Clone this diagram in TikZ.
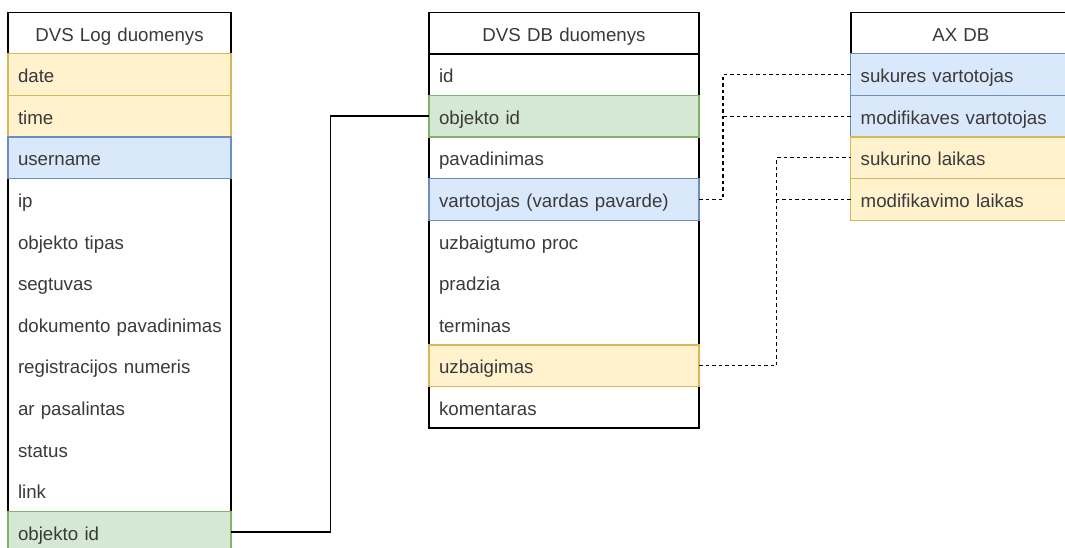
\documentclass[tikz,border=0pt]{standalone}
\usepackage{fontspec}
\setmainfont{Liberation Sans}
\usetikzlibrary{backgrounds}
\definecolor{ylwfill}{HTML}{FFF2CC}
\definecolor{ylwline}{HTML}{D6B656}
\definecolor{blufill}{HTML}{DAE8FC}
\definecolor{bluline}{HTML}{6C8EBF}
\definecolor{grnfill}{HTML}{D5E8D4}
\definecolor{grnline}{HTML}{82B366}
\definecolor{txt}{HTML}{3A3A3A}
\begin{document}
\begin{tikzpicture}[x=1pt,y=-1pt,
  cell/.style={rectangle, anchor=north west, outer sep=0pt, inner ysep=0pt,
    inner xsep=10pt, text height=16pt, text depth=0pt, text=txt,
    font=\fontsize{18.7}{22}\selectfont, line width=1.2pt},
  head/.style={cell, draw=black, line width=1.6pt, fill=white,
    minimum height=41.3pt, align=center, text width=#1},
  field/.style={cell, minimum height=41.6pt, align=left, text width=#1},
  lhead/.style={head=203pt}, lrow/.style={field=203pt},
  mhead/.style={head=250pt}, mrow/.style={field=250pt},
  rhead/.style={head=200.3pt}, rrow/.style={field=200.3pt},
  ylw/.style={fill=ylwfill, draw=ylwline},
  blu/.style={fill=blufill, draw=bluline},
  grn/.style={fill=grnfill, draw=grnline},
  frame/.style={draw=black, line width=1.6pt, fill=white},
  link/.style={draw=black, line width=1.5pt},
  ref/.style={draw=black, line width=1.3pt, dash pattern=on 3.5pt off 3pt}
]
\useasboundingbox (0,0) rectangle (1065,548);
\clip (0,0) rectangle (1065,548);

% DVS Log duomenys
\node[lhead] (lh) at (8,12.5) {DVS Log duomenys};
\node[lrow, ylw] (ldate) at (lh.south west) {date};
\node[lrow, ylw] (ltime) at (ldate.south west) {time};
\node[lrow, blu] (luser) at (ltime.south west) {username};
\node[lrow] (lip) at (luser.south west) {ip};
\node[lrow] (ltype) at (lip.south west) {objekto tipas};
\node[lrow] (lfold) at (ltype.south west) {segtuvas};
\node[lrow] (ldoc) at (lfold.south west) {\mbox{dokumento pavadinimas}};
\node[lrow] (lreg) at (ldoc.south west) {registracijos numeris};
\node[lrow] (ldel) at (lreg.south west) {ar pasalintas};
\node[lrow] (lstat) at (ldel.south west) {status};
\node[lrow] (llink) at (lstat.south west) {link};
\node[lrow, grn] (lobj) at (llink.south west) {objekto id};

% DVS DB duomenys
\node[mhead] (mh) at (429,12.5) {DVS DB duomenys};
\node[mrow] (mid) at (mh.south west) {id};
\node[mrow, grn] (mobj) at (mid.south west) {objekto id};
\node[mrow] (mname) at (mobj.south west) {pavadinimas};
\node[mrow, blu] (muser) at (mname.south west) {vartotojas (vardas pavarde)};
\node[mrow] (mproc) at (muser.south west) {uzbaigtumo proc};
\node[mrow] (mstart) at (mproc.south west) {pradzia};
\node[mrow] (mterm) at (mstart.south west) {terminas};
\node[mrow, ylw] (mdone) at (mterm.south west) {uzbaigimas};
\node[mrow] (mnote) at (mdone.south west) {komentaras};

% AX DB
\node[rhead] (rh) at (850.7,12.5) {AX DB};
\node[rrow, blu] (rcuser) at (rh.south west) {sukures vartotojas};
\node[rrow, blu] (rmuser) at (rcuser.south west) {\mbox{modifikaves vartotojas}};
\node[rrow, ylw] (rctime) at (rmuser.south west) {sukurino laikas};
\node[rrow, ylw] (rmtime) at (rctime.south west) {modifikavimo laikas};

% table frames behind the rows
\begin{scope}[on background layer]
  \path[frame] (lh.north west) rectangle (lobj.south east);
  \path[frame] (mh.north west) rectangle (mnote.south east);
  \path[frame] (rh.north west) rectangle (rmtime.south east);
\end{scope}

% connectors
\coordinate (j1) at (330.7,0);
\coordinate (j2) at (723,0);
\coordinate (j3) at (776.5,0);
\draw[link] (lobj.east) -- (lobj.east -| j1) |- (mobj.west);
\draw[ref] (muser.east) -- (muser.east -| j2) |- (rcuser.west);
\draw[ref] (rmuser.west) -- (rmuser.west -| j2);
\draw[ref] (mdone.east) -- (mdone.east -| j3) |- (rctime.west);
\draw[ref] (rmtime.west) -- (rmtime.west -| j3);
\end{tikzpicture}
\end{document}
